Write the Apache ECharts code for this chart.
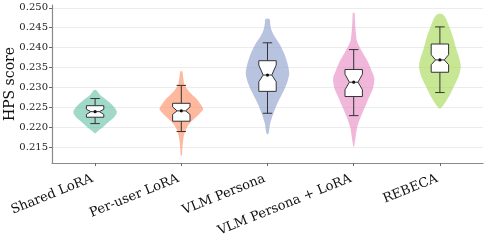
<!DOCTYPE html>
<html><head><meta charset="utf-8">
<script src="https://cdn.jsdelivr.net/npm/echarts@6/dist/echarts.min.js"></script>
<style>html,body{margin:0;padding:0;background:#fff}#c{width:488px;height:246px}</style>
</head><body><div id="c"></div>
<script>
const categories = ['Shared LoRA', 'Per-user LoRA', 'VLM Persona', 'VLM Persona + LoRA', 'REBECA'];
const yTicks = [0.215, 0.220, 0.225, 0.230, 0.235, 0.240, 0.245, 0.250];
const colors = ['#66c2a5', '#fc8d62', '#8da0cb', '#e78ac3', '#a6d854'];

// box statistics
const whiskerLow  = [0.2209, 0.2189, 0.2235, 0.2229, 0.2287];
const q1          = [0.2225, 0.2215, 0.2290, 0.2277, 0.2338];
const notchLow    = [0.2232, 0.2232, 0.2314, 0.2294, 0.2357];
const medians     = [0.2239, 0.2241, 0.2331, 0.2313, 0.2369];
const notchHigh   = [0.2245, 0.2251, 0.2356, 0.2333, 0.2382];
const q3          = [0.2254, 0.2260, 0.2367, 0.2345, 0.2409];
const whiskerHigh = [0.2272, 0.2305, 0.2412, 0.2395, 0.2452];

// violin density profiles: [value, relative half-width]
const violinShared = [[0.2294,0],[0.2293,0.06],[0.2289,0.12],[0.2281,0.23],[0.2268,0.53],[0.2255,0.79],[0.2239,0.99],[0.2226,0.88],[0.2214,0.64],[0.2201,0.38],[0.2191,0.15],[0.2184,0]];
const violinPerUser = [[0.2341,0],[0.2339,0.05],[0.2323,0.09],[0.2306,0.15],[0.2289,0.36],[0.2272,0.68],[0.2255,0.91],[0.2245,0.99],[0.2230,0.76],[0.2214,0.45],[0.2197,0.23],[0.2180,0.12],[0.2155,0.06],[0.2130,0.03],[0.2127,0]];
const violinVlm = [[0.2473,0],[0.2471,0.10],[0.2461,0.12],[0.2444,0.18],[0.2427,0.33],[0.2411,0.53],[0.2385,0.76],[0.2360,0.91],[0.2335,0.99],[0.2310,0.88],[0.2285,0.68],[0.2260,0.45],[0.2235,0.27],[0.2209,0.12],[0.2184,0.05],[0.2182,0]];
const violinVlmLora = [[0.2488,0],[0.2487,0.04],[0.2466,0.06],[0.2441,0.09],[0.2416,0.15],[0.2390,0.38],[0.2365,0.64],[0.2340,0.83],[0.2323,0.94],[0.2298,0.88],[0.2273,0.68],[0.2248,0.49],[0.2223,0.30],[0.2198,0.15],[0.2173,0.08],[0.2152,0.02],[0.2151,0]];
const violinRebeca = [[0.2485,0],[0.2484,0.12],[0.2474,0.27],[0.2449,0.45],[0.2424,0.61],[0.2399,0.73],[0.2374,0.88],[0.2353,0.95],[0.2332,0.88],[0.2307,0.68],[0.2281,0.45],[0.2261,0.23],[0.2248,0.05],[0.2246,0]];
const violins = [violinShared, violinPerUser, violinVlm, violinVlmLora, violinRebeca];

const VIOLIN_HALF = 0.255, BOX_HALF = 0.101, NOTCH_HALF = 0.05, CAP_HALF = 0.055;
const FONT = 'DejaVu Serif';

const chart = echarts.init(document.getElementById('c'), null, {renderer: 'canvas'});

function hexA(h, a) {
  const r = parseInt(h.slice(1,3),16), g = parseInt(h.slice(3,5),16), b = parseInt(h.slice(5,7),16);
  return `rgba(${r},${g},${b},${a})`;
}

function violinItem(params, api) {
  const idx = api.value(0);
  const prof = violins[idx];
  const band = api.size([1, 0])[0];
  const pts = [];
  for (let i = 0; i < prof.length; i++) {
    const c = api.coord([idx, prof[i][0]]);
    pts.push([c[0] + prof[i][1] * band * VIOLIN_HALF, c[1]]);
  }
  for (let i = prof.length - 1; i >= 0; i--) {
    const c = api.coord([idx, prof[i][0]]);
    pts.push([c[0] - prof[i][1] * band * VIOLIN_HALF, c[1]]);
  }
  return {type: 'polygon', shape: {points: pts, smooth: 0.25},
    style: {fill: hexA(colors[idx], 0.62), stroke: null}};
}

function boxItem(params, api) {
  const idx = api.value(0);
  const band = api.size([1, 0])[0];
  const cx = api.coord([idx, medians[idx]])[0];
  const Y = v => api.coord([idx, v])[1];
  const bw = band * BOX_HALF, nw = band * NOTCH_HALF, cw = band * CAP_HALF;
  const line = {stroke: '#333', lineWidth: 1};
  const children = [
    {type: 'line', shape: {x1: cx, y1: Y(whiskerLow[idx]), x2: cx, y2: Y(whiskerHigh[idx])}, style: line},
    {type: 'line', shape: {x1: cx - cw, y1: Y(whiskerLow[idx]), x2: cx + cw, y2: Y(whiskerLow[idx])}, style: line},
    {type: 'line', shape: {x1: cx - cw, y1: Y(whiskerHigh[idx]), x2: cx + cw, y2: Y(whiskerHigh[idx])}, style: line},
    {type: 'polygon', shape: {points: [
      [cx - bw, Y(q3[idx])], [cx + bw, Y(q3[idx])], [cx + bw, Y(notchHigh[idx])], [cx + nw, Y(medians[idx])],
      [cx + bw, Y(notchLow[idx])], [cx + bw, Y(q1[idx])], [cx - bw, Y(q1[idx])], [cx - bw, Y(notchLow[idx])],
      [cx - nw, Y(medians[idx])], [cx - bw, Y(notchHigh[idx])]
    ]}, style: {fill: '#fff', stroke: '#333', lineWidth: 1}},
    {type: 'line', shape: {x1: cx - nw, y1: Y(medians[idx]), x2: cx + nw, y2: Y(medians[idx])}, style: line},
    {type: 'circle', shape: {cx: cx, cy: Y(medians[idx]), r: 1.6}, style: {fill: '#111'}}
  ];
  return {type: 'group', children};
}

const idxData = categories.map((c, i) => [i]);

chart.setOption({
  animation: false,
  grid: {left: 52, right: 5, top: 5, bottom: 83, containLabel: false, outerBoundsMode: 'none'},
  xAxis: {
    type: 'category', data: categories, boundaryGap: true,
    axisLine: {show: true, lineStyle: {color: '#8a8a8a', width: 1.2}},
    axisTick: {show: true, alignWithLabel: true, length: 3, lineStyle: {color: '#666'}},
    axisLabel: {rotate: 22, margin: 14, padding: [0, 3, 0, 0], color: '#111', fontFamily: FONT, fontSize: 13, interval: 0},
    splitLine: {show: false}
  },
  yAxis: {
    type: 'value', min: 0.211, max: 0.2507,
    name: 'HPS score', nameLocation: 'middle', nameGap: 35, nameMoveOverlap: false,
    nameTextStyle: {fontFamily: FONT, fontSize: 14, color: '#111'},
    axisLine: {show: true, lineStyle: {color: '#8a8a8a', width: 1.2}},
    axisTick: {show: true, length: 3, customValues: yTicks, lineStyle: {color: '#666'}},
    axisLabel: {customValues: yTicks, margin: 4, color: '#222', fontFamily: FONT, fontSize: 10,
      formatter: v => v.toFixed(3)},
    splitLine: {show: true, lineStyle: {color: '#ececec', width: 1}}
  },
  series: [
    {type: 'custom', renderItem: violinItem, data: idxData, encode: {x: 0}, z: 2, silent: true},
    {type: 'custom', renderItem: boxItem, data: idxData, encode: {x: 0}, z: 3, silent: true}
  ]
});
</script></body></html>
